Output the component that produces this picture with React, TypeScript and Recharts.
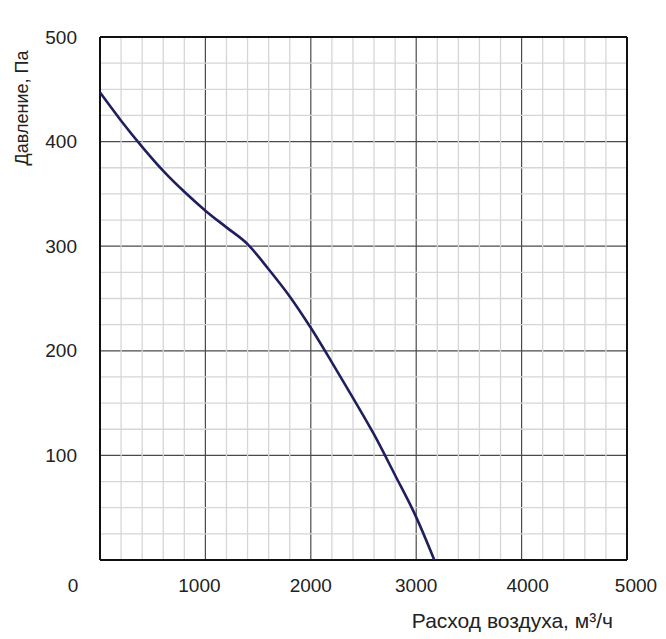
import React from 'react';
import {
  LineChart,
  Line,
  XAxis,
  YAxis,
  CartesianGrid,
  ReferenceLine,
} from 'recharts';

// flow rate, m³/h
const flow = [0, 200, 400, 600, 800, 1000, 1200, 1400, 1600, 1800, 2000, 2200, 2400, 2600, 2800, 3000, 3172];
// pressure, Pa
const pressure = [447, 420, 395, 372, 352, 334, 318, 302, 278, 252, 222, 189, 155, 120, 81, 41, 0];

const xMajorTicks = [0, 1000, 2000, 3000, 4000, 5000];
const yMajorTicks = [100, 200, 300, 400, 500];
const xMinorTicks = [
  200, 400, 600, 800, 1200, 1400, 1600, 1800, 2200, 2400, 2600, 2800,
  3200, 3400, 3600, 3800, 4200, 4400, 4600, 4800,
];
const yMinorTicks = [
  25, 50, 75, 125, 150, 175, 225, 250, 275, 325, 350, 375, 425, 450, 475,
];

const xTitle = 'Расход воздуха, м³/ч';
const yTitle = 'Давление, Па';

const data = flow.map((x, i) => ({ x, y: pressure[i] }));

const FONT = '"Liberation Sans", Arial, sans-serif';
const TEXT = '#222';

// labels in the original are not exactly centred on the grid lines
const xLabelShift: Record<number, number> = { 0: -27, 1000: -6, 2000: 0, 3000: 0, 4000: 6, 5000: 9 };

const XTick = (props: any) => {
  const { x, y, payload } = props;
  const v = payload.value as number;
  return (
    <text x={x + (xLabelShift[v] ?? 0)} y={y + 24} textAnchor="middle" fontSize={19} fontFamily={FONT} fill={TEXT}>
      {v}
    </text>
  );
};

const YTick = (props: any) => {
  const { x, y, payload } = props;
  return (
    <text x={x - 15} y={y + 6.5} textAnchor="end" fontSize={19} fontFamily={FONT} fill={TEXT}>
      {payload.value}
    </text>
  );
};

export default function App() {
  return (
    <div style={{ position: 'absolute', left: 0, top: 0, background: '#fff' }}>
      <LineChart width={666} height={639} data={data} margin={{ top: 37, right: 39, bottom: 0, left: 0 }}>
        <XAxis
          dataKey="x"
          type="number"
          domain={[0, 5000]}
          ticks={xMajorTicks}
          height={79}
          tickLine={false}
          axisLine={false}
          tick={<XTick />}
          interval={0}
          label={{
            content: (p: any) => {
              const vb = p.viewBox;
              return (
                <text x={vb.x + vb.width - 14} y={628} textAnchor="end" fontSize={21} fontFamily={FONT} fill={TEXT}>
                  {xTitle}
                </text>
              );
            },
          }}
        />
        <YAxis
          type="number"
          domain={[0, 500]}
          ticks={yMajorTicks}
          width={100}
          tickLine={false}
          axisLine={false}
          tick={<YTick />}
          interval={0}
          label={{
            content: () => (
              <text
                x={0}
                y={0}
                transform="translate(27.5, 108) rotate(-90)"
                textAnchor="middle"
                fontSize={18}
                fontFamily={FONT}
                fill={TEXT}
              >
                {yTitle}
              </text>
            ),
          }}
        />
        {xMinorTicks.map((v) => (
          <ReferenceLine key={`xm${v}`} x={v} stroke="#d6d6d6" strokeWidth={1.3} />
        ))}
        {yMinorTicks.map((v) => (
          <ReferenceLine key={`ym${v}`} y={v} stroke="#d6d6d6" strokeWidth={1.3} />
        ))}
        <CartesianGrid stroke="#4a4a4a" strokeWidth={1.2} />
        <ReferenceLine x={0} stroke="#111" strokeWidth={2} />
        <ReferenceLine x={5000} stroke="#111" strokeWidth={2} />
        <ReferenceLine y={0} stroke="#111" strokeWidth={2} />
        <ReferenceLine y={500} stroke="#111" strokeWidth={2} />
        <Line
          type="monotone"
          dataKey="y"
          stroke="#1f1f5e"
          strokeWidth={2.6}
          dot={false}
          isAnimationActive={false}
        />
      </LineChart>
    </div>
  );
}
